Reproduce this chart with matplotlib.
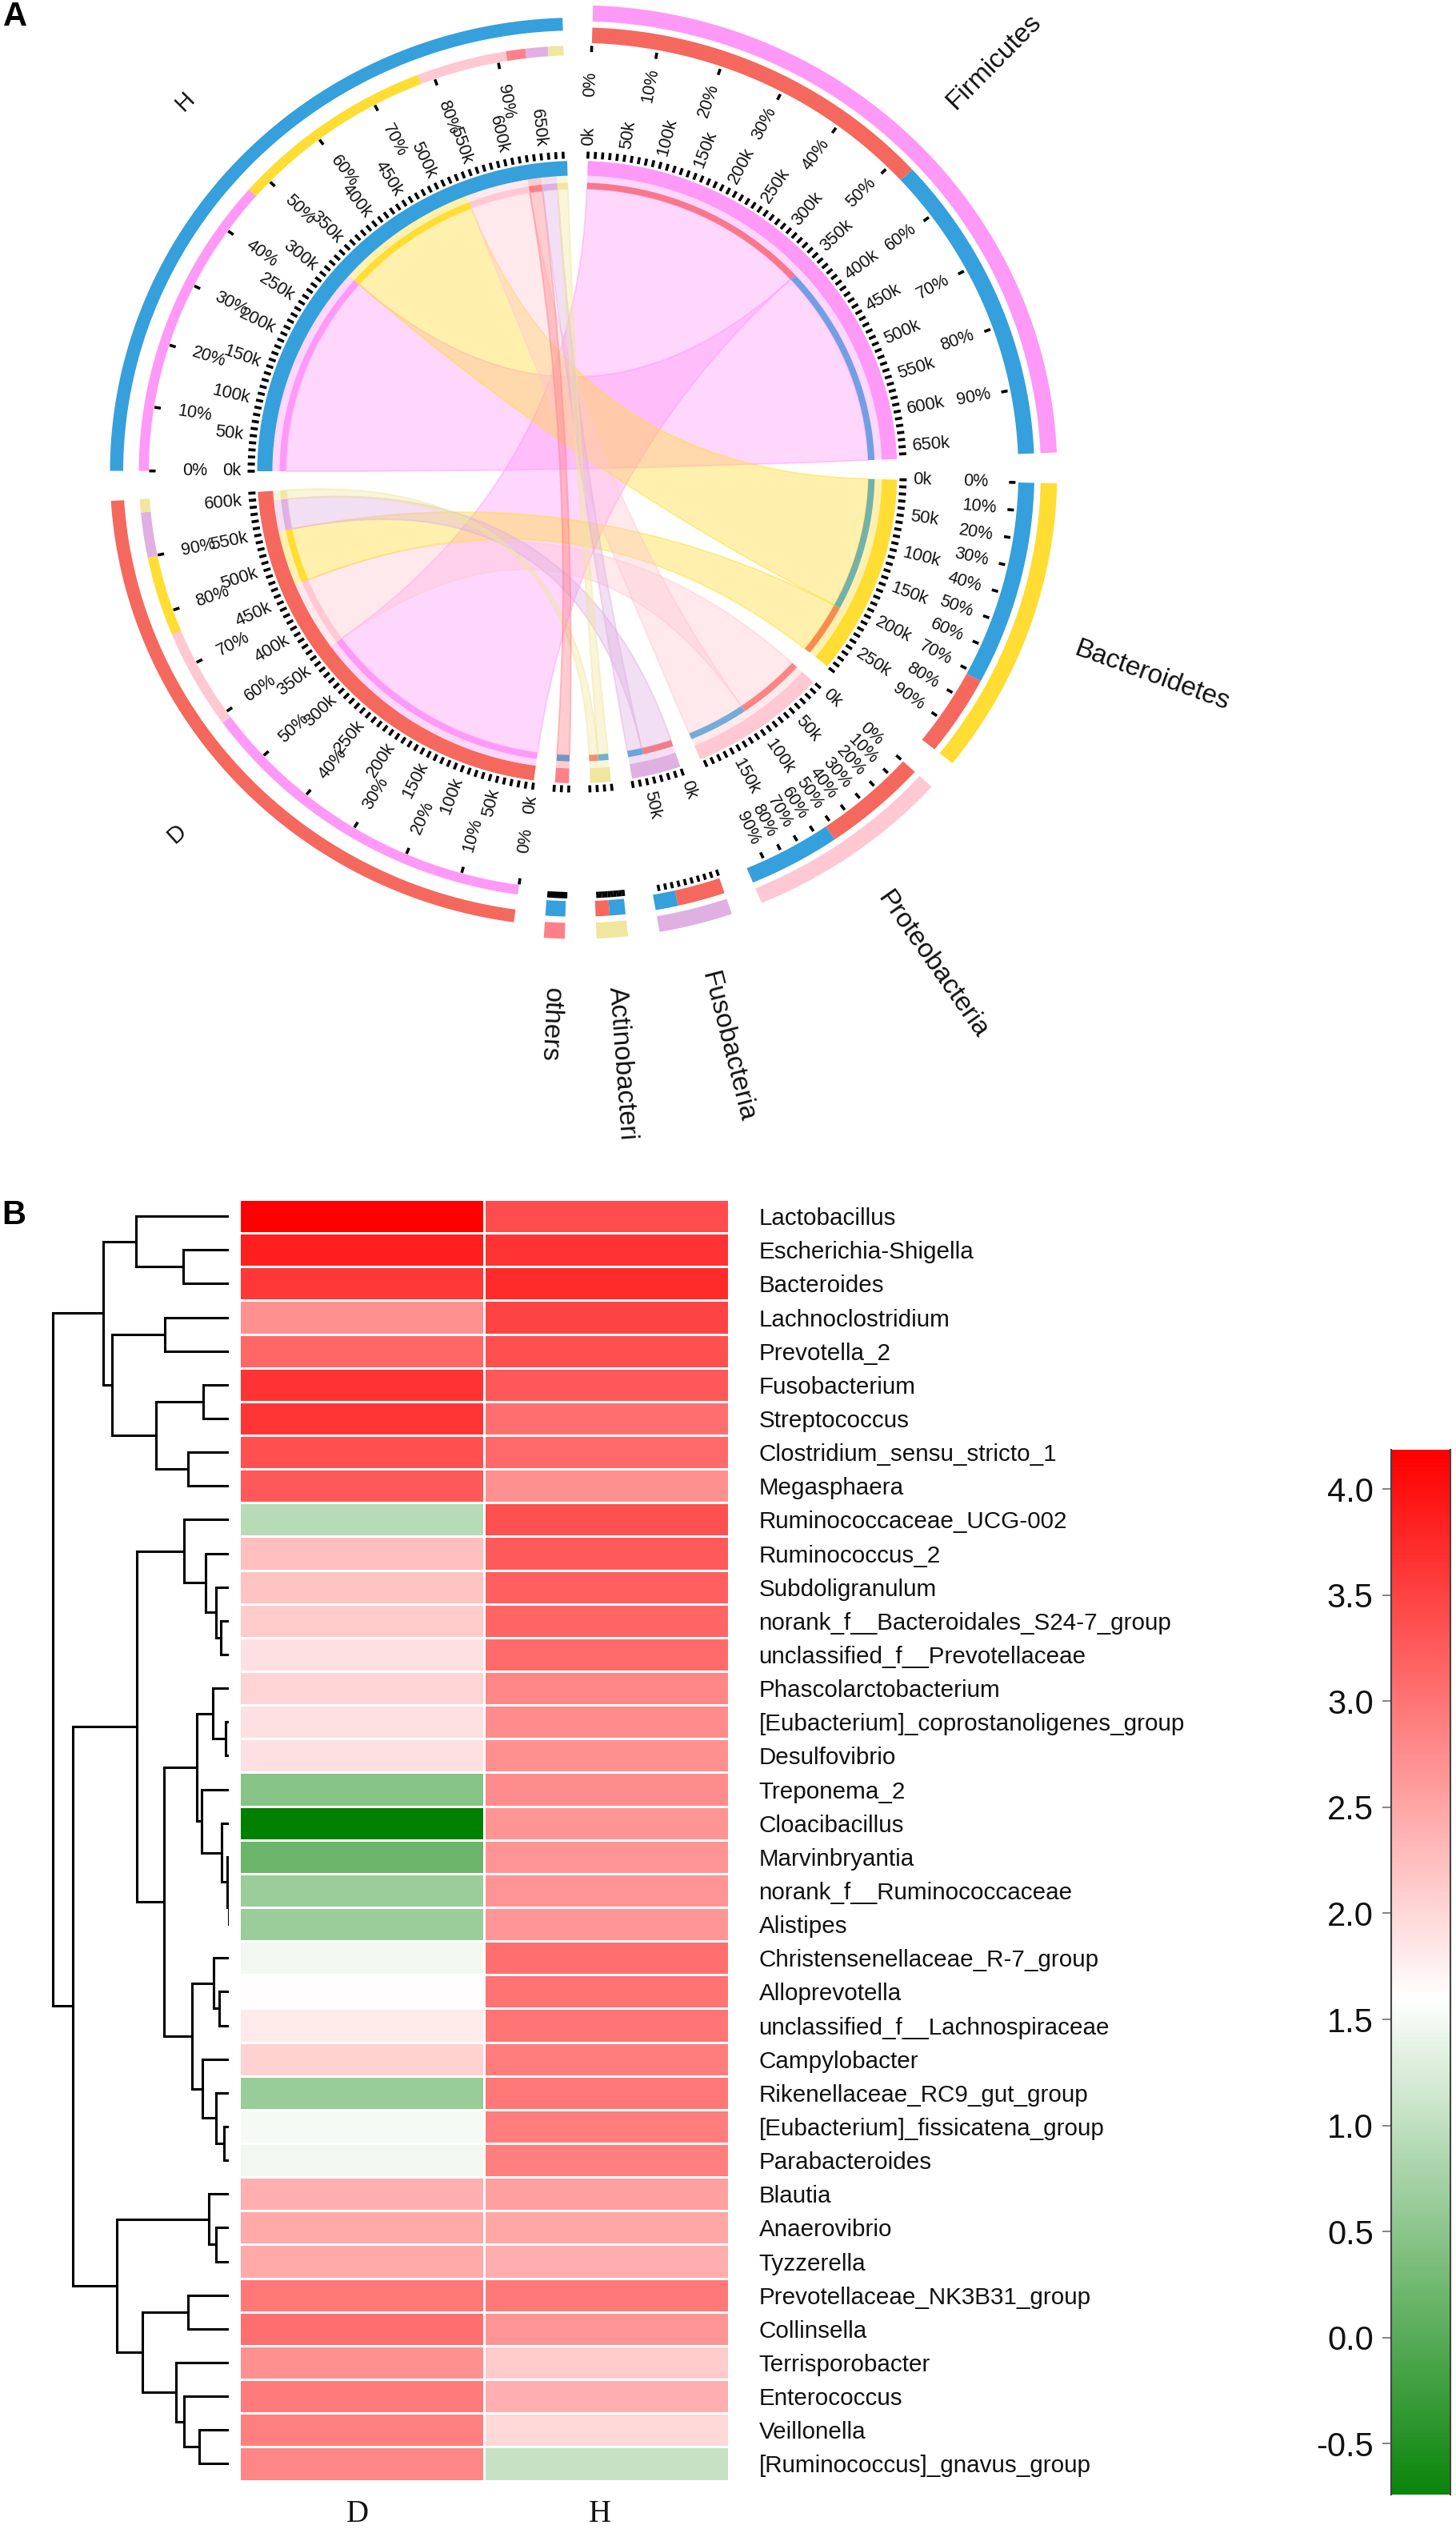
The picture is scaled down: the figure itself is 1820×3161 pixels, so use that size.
import numpy as np
import matplotlib
matplotlib.use("Agg")
import matplotlib.pyplot as plt
from matplotlib.path import Path
from matplotlib.patches import PathPatch, Polygon
from matplotlib.collections import LineCollection
from matplotlib.colors import LinearSegmentedColormap, Normalize, to_rgb

plt.rcParams['font.family'] = ['Liberation Sans', 'DejaVu Sans']

W, H = 1820, 3161
# ---------- data: panel A (reads, thousands) ----------
phyla = ['Firmicutes', 'Bacteroidetes', 'Proteobacteria', 'Fusobacteria', 'Actinobacteri', 'others']
d_reads = [360, 84, 106, 48, 14, 0]
h_reads = [322, 212, 93, 23, 16, 20]
d_stack = [0, 2, 1, 3, 4]
h_stack = [0, 1, 2, 5, 3, 4]
phylum_side_order = [['D', 'H'], ['H', 'D'], ['D', 'H'], ['D', 'H'], ['H', 'D'], ['H']]
phylum_colors = ['#FF99F8', '#FFDD33', '#FFC8D2', '#E0B0E2', '#F0E6A0', '#FF8088']
group_colors = {'D': '#F5685E', 'H': '#35A0DC'}
group_label_rotation = {'D': 42, 'H': 45}
label_phyla_pct = [True, True, True, False, False, False]
label_phyla_k = [True, True, True, True, False, False]

# ---------- data: panel B ----------
genera = ['Lactobacillus', 'Escherichia-Shigella', 'Bacteroides', 'Lachnoclostridium', 'Prevotella_2',
          'Fusobacterium', 'Streptococcus', 'Clostridium_sensu_stricto_1', 'Megasphaera',
          'Ruminococcaceae_UCG-002', 'Ruminococcus_2', 'Subdoligranulum',
          'norank_f__Bacteroidales_S24-7_group', 'unclassified_f__Prevotellaceae', 'Phascolarctobacterium',
          '[Eubacterium]_coprostanoligenes_group', 'Desulfovibrio', 'Treponema_2', 'Cloacibacillus',
          'Marvinbryantia', 'norank_f__Ruminococcaceae', 'Alistipes', 'Christensenellaceae_R-7_group',
          'Alloprevotella', 'unclassified_f__Lachnospiraceae', 'Campylobacter', 'Rikenellaceae_RC9_gut_group',
          '[Eubacterium]_fissicatena_group', 'Parabacteroides', 'Blautia', 'Anaerovibrio', 'Tyzzerella',
          'Prevotellaceae_NK3B31_group', 'Collinsella', 'Terrisporobacter', 'Enterococcus', 'Veillonella',
          '[Ruminococcus]_gnavus_group']
d_values = [4.18, 3.87, 3.62, 2.72, 3.13, 3.67, 3.64, 3.37, 3.29, 0.91, 2.24, 2.20, 2.12, 1.91, 2.04, 1.92, 1.91,
            0.44, -0.85, 0.18, 0.63, 0.63, 1.47, 1.62, 1.81, 2.06, 0.62, 1.51, 1.46, 2.40, 2.46, 2.46, 2.97, 3.05,
            2.72, 2.94, 2.89, 2.81]
h_values = [3.41, 3.67, 3.74, 3.50, 3.36, 3.29, 3.05, 3.11, 2.72, 3.37, 3.27, 3.21, 3.15, 3.09, 2.81, 2.76, 2.72,
            2.76, 2.69, 2.69, 2.68, 2.67, 3.05, 3.02, 3.00, 2.92, 2.97, 2.92, 2.90, 2.56, 2.50, 2.42, 2.95, 2.68,
            2.12, 2.40, 1.99, 1.04]
col_labels = ['D', 'H']
cbar_ticks = [-0.5, 0.0, 0.5, 1.0, 1.5, 2.0, 2.5, 3.0, 3.5, 4.0]
cmap_stops = [(-0.85, '#008000'), (1.6, '#FFFFFF'), (4.185, '#FF0000')]
cbar_range = (-0.74, 4.185)
# dendrogram: (merge height, left, right), leaves are row indices
tree = (220.4,
        (157, (116, 0, (57, 1, 2)),
         (146, (80, 3, 4), (91.5, (32, 5, 6), (51, 7, 8)))),
        (195.5,
         (115,
          (56, 9, (28.6, 10, (16, 11, (10.4, 12, 13)))),
          (81,
           (40.4, (20.3, 14, (4.5, 15, 16)),
            (34.5, 17, (9, 18, (2, 19, (0.5, 20, 21))))),
           (46.4, (19, 22, (12.4, 23, 24)),
            (33.3, 25, (16, 26, (6, 27, 28)))))),
         (140,
          (25, 29, (16, 30, 31)),
          (108, (51.5, 32, 33),
           (66.5, 34, (56, 35, (37.3, 36, 37)))))))

# ---------- figure ----------
fig = plt.figure(figsize=(W / 100, H / 100), dpi=100, facecolor='white')


def px_axes(x0, y0, x1, y1):
    return fig.add_axes([x0 / W, 1 - y1 / H, (x1 - x0) / W, (y1 - y0) / H])


ax = fig.add_axes([0, 0, 1, 1])
ax.set_xlim(0, W)
ax.set_ylim(H, 0)
ax.axis('off')

CX, CY, SQ = 721.5, 590.0, 0.9725


def pt(r, th):
    t = np.radians(th)
    return CX + r * np.sin(t), CY - SQ * r * np.cos(t)


def band(r0, r1, a0, a1, color, alpha=1.0, z=3):
    ths = np.linspace(a0, a1, max(3, int(abs(a1 - a0) * 3)))
    xo, yo = pt(r1, ths)
    xi, yi = pt(r0, ths[::-1])
    ax.add_patch(Polygon(np.c_[np.r_[xo, xi], np.r_[yo, yi]], closed=True, facecolor=color,
                         edgecolor='none', alpha=alpha, zorder=z))


def blend(c, s, w=0.7):
    a, b = np.array(to_rgb(c)), np.array(to_rgb(s))
    return tuple(w * a + (1 - w) * b)


d_total, h_total = sum(d_reads), sum(h_reads)
phylum_totals = [d + h for d, h in zip(d_reads, h_reads)]
GAP = 3.8
START = 1.9
PHYLA_END = 184.0
GROUP_START = PHYLA_END + GAP
GROUP_END = 358.2
DEG_P = (PHYLA_END - START - 5 * GAP) / sum(phylum_totals)
DEG_G = (GROUP_END - GROUP_START - GAP) / (d_total + h_total)
DEG_K = 0.1285

sectors = {}
a = START
for i, p in enumerate(phyla):
    sectors[p] = (a, a + phylum_totals[i] * DEG_P)
    a = sectors[p][1] + GAP
sectors['D'] = (GROUP_START, GROUP_START + d_total * DEG_G)
a = sectors['D'][1] + GAP
sectors['H'] = (a, a + h_total * DEG_G)

flow_group = {}
for g, stack, reads in (('D', d_stack, d_reads), ('H', h_stack, h_reads)):
    a = sectors[g][0]
    for i in stack:
        flow_group[(g, i)] = (a, a + reads[i] * DEG_G)
        a += reads[i] * DEG_G
flow_phylum = {}
for i, p in enumerate(phyla):
    a = sectors[p][0]
    for g in phylum_side_order[i]:
        v = d_reads[i] if g == 'D' else h_reads[i]
        flow_phylum[(g, i)] = (a, a + v * DEG_P)
        a += v * DEG_P

R_OUT, R_TRK, R_SUB, R_RIB = 400, 381, 372, 364

# ribbons
for (g, i), (a0, a1) in flow_group.items():
    b0, b1 = flow_phylum[(g, i)]
    col = phylum_colors[i]
    arc_a = np.linspace(a0, a1, 40)
    arc_b = np.linspace(b0, b1, 40)
    xa, ya = pt(R_RIB, arc_a)
    xb, yb = pt(R_RIB, arc_b)
    verts = list(zip(xa, ya))
    codes = [Path.MOVETO] + [Path.LINETO] * (len(xa) - 1)
    verts += [(CX, CY), (xb[0], yb[0])]
    codes += [Path.CURVE3, Path.CURVE3]
    verts += list(zip(xb[1:], yb[1:]))
    codes += [Path.LINETO] * (len(xb) - 1)
    verts += [(CX, CY), (xa[0], ya[0])]
    codes += [Path.CURVE3, Path.CURVE3]
    rgb = to_rgb(col)
    ax.add_patch(PathPatch(Path(verts, codes), facecolor=rgb + (0.40,), edgecolor=rgb + (0.45,), lw=1.4, zorder=2))
    band(R_RIB, R_TRK, a0, a1, rgb, 0.40)
    band(R_RIB, R_SUB, a0, a1, col)
    band(R_RIB, R_TRK, b0, b1, rgb, 0.40)
    band(R_RIB, R_SUB, b0, b1, blend(group_colors[g], col))

# tracks
ktk_seg, pct_seg = [], []
for name in phyla + ['D', 'H']:
    a0, a1 = sectors[name]
    left = name in ('D', 'H')
    if name in phyla:
        i = phyla.index(name)
        color = phylum_colors[i]
        band(R_TRK, R_OUT, a0, a1, color)
        band(579.5, 600, a0, a1, color)
        for g in phylum_side_order[i]:
            b0, b1 = flow_phylum[(g, i)]
            band(551.5, 571.5, b0, b1, group_colors[g])
        show_k, show_pct = label_phyla_k[i], label_phyla_pct[i]
    else:
        color = group_colors[name]
        band(R_TRK, R_OUT, a0, a1, color)
        band(567.5, 584, a0, a1, color)
        for i in (d_stack if name == 'D' else h_stack):
            b0, b1 = flow_group[(name, i)]
            band(535.5, 548, b0, b1, phylum_colors[i])
        show_k, show_pct = True, True

    # read-count axis
    axis_len = (a1 - a0) / DEG_K
    for v in np.arange(0, axis_len + 1, 10):
        th = a0 + v * DEG_K
        ktk_seg.append([pt(403, th), pt(412, th)])
    if show_k:
        for v in np.arange(0, axis_len + 1, 50):
            th = a0 + v * DEG_K
            x, y = pt(420, th)
            if th < 180:
                ax.text(x, y, f'{int(v)}k', rotation=90 - th, rotation_mode='anchor', ha='left', va='center', fontsize=15.8, color='#111111', zorder=5)
            else:
                ax.text(x, y, f'{int(v)}k', rotation=270 - th, rotation_mode='anchor', ha='right', va='center', fontsize=15.8, color='#111111', zorder=5)
    # percent axis
    tr0, tr1 = (527, 535) if left else (540, 548)
    for q in range(0, 100, 10):
        th = a0 + (a1 - a0) * q / 100
        pct_seg.append([pt(tr0, th), pt(tr1, th)])
        if show_pct:
            x, y = pt(462 if left else 483, th)
            if th < 180:
                ax.text(x, y, f'{q}%', rotation=90 - th, rotation_mode='anchor', ha='left', va='center', fontsize=15.5, color='#111111', zorder=5)
            else:
                ax.text(x, y, f'{q}%', rotation=270 - th, rotation_mode='anchor', ha='right', va='center', fontsize=15.5, color='#111111', zorder=5)
    # sector name
    mid = (a0 + a1) / 2
    if left:
        x, y = pt(683, mid)
        ax.text(x, y, name, rotation=group_label_rotation[name], rotation_mode='anchor', ha='center', va='center',
                fontsize=21, color='#111111')
    else:
        x, y = pt(663, mid)
        ax.text(x, y, name, rotation=90 - mid, rotation_mode='anchor', ha='left', va='center', fontsize=24, color='#111111')

ax.add_collection(LineCollection(ktk_seg, colors='black', linewidths=2.6, capstyle='butt', zorder=4))
ax.add_collection(LineCollection(pct_seg, colors='black', linewidths=2.6, capstyle='butt', zorder=4))

ax.text(4, 21, 'A', fontsize=30, fontweight='bold', va='center', ha='left')
ax.text(2, 1519, 'B', fontsize=30, fontweight='bold', va='center', ha='left')

# ---------- panel B ----------
HM_T, HM_B = 1499, 3100.5
cmap = LinearSegmentedColormap.from_list(
    'gwr', [((v - cmap_stops[0][0]) / (cmap_stops[-1][0] - cmap_stops[0][0]), c) for v, c in cmap_stops])
norm = Normalize(cmap_stops[0][0], cmap_stops[-1][0])

hm = px_axes(298.5, HM_T, 911, HM_B)
matrix = np.c_[d_values, h_values]
hm.pcolormesh(np.arange(3), np.arange(len(genera) + 1), matrix, cmap=cmap, norm=norm,
              edgecolors='white', linewidth=0.9)
hm.set_ylim(len(genera), 0)
hm.set_xlim(0, 2)
for s in hm.spines.values():
    s.set_visible(False)
hm.yaxis.tick_right()
hm.set_yticks(np.arange(len(genera)) + 0.5)
hm.set_yticklabels(genera, fontsize=21.3, color='#111111')
hm.set_xticks([0.485, 1.474])
hm.set_xticklabels(col_labels, fontsize=28, family='Liberation Serif', color='#111111')
hm.tick_params(axis='y', length=0, pad=27)
hm.tick_params(axis='x', length=0, pad=17)

dn = px_axes(0, HM_T, 286, HM_B)
dn.set_xlim(286, 0)
dn.set_ylim(len(genera), 0)
dn.axis('off')
den_segs = []


def walk(node):
    if isinstance(node, int):
        return node + 0.5, 0.0
    h, l, r = node
    yl, hl = walk(l)
    yr, hr = walk(r)
    den_segs.append([(hl, yl), (h, yl), (h, yr), (hr, yr)])
    return (yl + yr) / 2, h


walk(tree)
dn.add_collection(LineCollection(den_segs, colors='black', linewidths=2.2, capstyle='projecting', joinstyle='miter'))

cb = px_axes(1739, 1812, 1813, 3118)
grad = np.linspace(cbar_range[0], cbar_range[1], 512)[:, None]
cb.imshow(grad, cmap=cmap, norm=norm, aspect='auto', origin='lower',
          extent=[0, 1, cbar_range[0], cbar_range[1]])
cb.set_xticks([])
cb.set_yticks(cbar_ticks)
cb.set_yticklabels([f'{t:.1f}' for t in cbar_ticks], fontsize=30, color='#111111')
cb.tick_params(axis='y', length=8, width=1.5, color='#888888', pad=8)
cb.spines['top'].set_visible(False)
cb.spines['bottom'].set_visible(False)
for s in ('left', 'right'):
    cb.spines[s].set_color('#444444')
    cb.spines[s].set_linewidth(1.5)

fig.savefig('out.png', dpi=100, facecolor='white')
